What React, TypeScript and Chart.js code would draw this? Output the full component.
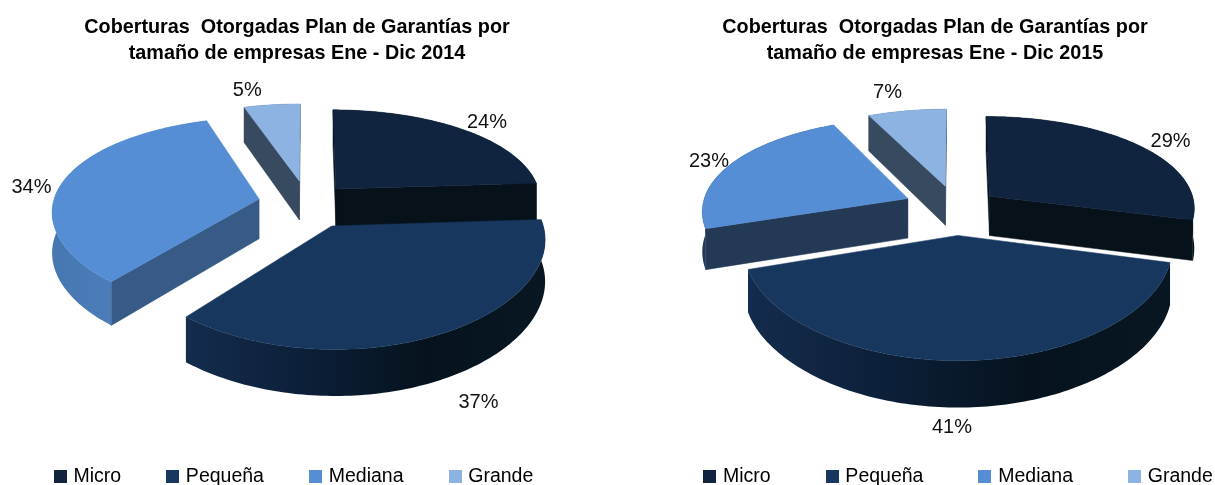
import React, { useEffect, useRef } from "react";
import { Chart, registerables } from "chart.js";
Chart.register(...registerables);

const categories = ["Micro", "Pequeña", "Mediana", "Grande"];
const values2014 = [24, 37, 34, 5];
const values2015 = [29, 41, 23, 7];
const title2014 = ["Coberturas  Otorgadas Plan de Garantías por", "tamaño de empresas Ene - Dic 2014"];
const title2015 = ["Coberturas  Otorgadas Plan de Garantías por", "tamaño de empresas Ene - Dic 2015"];
const legendColors = ["#10243F", "#17375E", "#558ED5", "#8DB3E2"];

type Cfg = {
  values: number[]; title: string[]; explode: number[]; order: number[];
  dx: number; dy: number; legendDx: number; legendPad: number; outline: number;
  faceColors: string[]; wallColors: string[][];
  labelAngle: number[]; labelRadius: number[];
};

const cfg2014: Cfg = {
  values: values2014, title: title2014, explode: [43, 53, 49, 50], order: [3, 0, 2, 1],
  dx: 10, dy: -34, legendDx: -2, legendPad: 48, outline: 0,
  faceColors: ["#07111A", "#0F2746", "#375A87", "#384A60"],
  wallColors: [["#07111A", "#07111A"], ["#142C4D", "#0C1F38", "#06131E", "#081722"], ["#4677B0", "#5587CB"], ["#384A60", "#384A60"]],
  labelAngle: [45.3, 157, 276, 346], labelRadius: [1.165, 1.45, 1.135, 1.24],
};
const cfg2015: Cfg = {
  values: values2015, title: title2015, explode: [43, 56, 53, 50], order: [1, 3, 0, 2],
  dx: 21, dy: -24, legendDx: 24.5, legendPad: 58, outline: 2,
  faceColors: ["#07111A", "#0F2746", "#233955", "#384A60"],
  wallColors: [["#07111A", "#07111A"], ["#142C4D", "#0C1F38", "#06131E", "#081722"], ["#233955", "#233955"], ["#384A60", "#384A60"]],
  labelAngle: [56, 181, 292.4, 345], labelRadius: [1.17, 1.41, 1.12, 1.3],
};

const PERSP_X = 1800, PERSP_Y = 1300, TILT = 0.465, DEPTH = 40, RADIUS = 206;

function swatch(color: string) {
  const c = document.createElement("canvas");
  c.width = 13; c.height = 13;
  const x = c.getContext("2d")!;
  x.fillStyle = color; x.fillRect(0, 0, 13, 13);
  return c;
}

function pie3dPlugin(cfg: Cfg) {
  return {
    id: "pie3d",
    afterLayout(chart: any) {
      chart.legend.left += cfg.legendDx;
      chart.legend.right += cfg.legendDx;
      chart.legend.top += 11;
      chart.legend.bottom += 11;
    },
    beforeDatasetsDraw(chart: any) {
      const ctx: CanvasRenderingContext2D = chart.ctx;
      const arcs = chart.getDatasetMeta(0).data;
      const base = arcs[0];
      const cx = base.x + cfg.dx, cy = base.y + cfg.dy;
      const proj = (X: number, Y: number, Z: number): [number, number] => {
        const fx = PERSP_X / (PERSP_X + Y), fy = PERSP_Y / (PERSP_Y + Y);
        return [cx + X * fx, cy - Y * TILT * fy - Z * fx];
      };
      const poly = (pts: [number, number][]) => {
        ctx.beginPath();
        pts.forEach((p, i) => (i ? ctx.lineTo(p[0], p[1]) : ctx.moveTo(p[0], p[1])));
        ctx.closePath();
      };
      for (const i of cfg.order) {
        const el = arcs[i];
        const a0 = el.startAngle + Math.PI / 2, a1 = el.endAngle + Math.PI / 2;
        const R = el.outerRadius, mid = (a0 + a1) / 2, o = el.options.offset;
        const ox = o * Math.sin(mid), oy = o * Math.cos(mid);
        const rim = (t: number): [number, number] => [ox + R * Math.sin(t), oy + R * Math.cos(t)];
        const steps = Math.max(2, Math.ceil((a1 - a0) / 0.02));
        const angs = Array.from({ length: steps + 1 }, (_, k) => a0 + ((a1 - a0) * k) / steps);
        const top = angs.map((t) => { const p = rim(t); return proj(p[0], p[1], 0); });
        const bot = angs.map((t) => { const p = rim(t); return proj(p[0], p[1], -DEPTH); });
        const apexT = proj(ox, oy, 0), apexB = proj(ox, oy, -DEPTH);
        const faces: [number, number][][] = [];
        const visible = (nx: number, ny: number) => nx * -ox + ny * (-PERSP_X - oy) > 0;
        if (visible(-Math.cos(a0), Math.sin(a0))) faces.push([apexT, top[0], bot[0], apexB]);
        if (visible(Math.cos(a1), -Math.sin(a1))) faces.push([apexT, top[steps], bot[steps], apexB]);
        const wall = [...top, ...bot.slice().reverse()];
        const topFace: [number, number][] = [apexT, ...top];
        if (cfg.outline) {
          ctx.strokeStyle = "#fff"; ctx.lineWidth = cfg.outline * 2; ctx.lineJoin = "round";
          [...faces, wall, topFace].forEach((f) => { poly(f); ctx.stroke(); });
        }
        const xs = wall.map((p) => p[0]);
        const g = ctx.createLinearGradient(Math.min(...xs), 0, Math.max(...xs), 0);
        const stops = cfg.wallColors[i];
        stops.forEach((c, k) => g.addColorStop(k / (stops.length - 1), c));
        poly(wall); ctx.fillStyle = g; ctx.fill();
        faces.forEach((f) => { poly(f); ctx.fillStyle = cfg.faceColors[i]; ctx.fill(); ctx.strokeStyle = cfg.faceColors[i]; ctx.lineWidth = 0.5; ctx.stroke(); });
        poly(topFace); ctx.fillStyle = el.options.backgroundColor; ctx.fill();
        ctx.strokeStyle = el.options.backgroundColor; ctx.lineWidth = 0.5; ctx.stroke();
      }
      ctx.font = '20px "Liberation Sans", Arial, sans-serif';
      ctx.fillStyle = "#111";
      ctx.textAlign = "center"; ctx.textBaseline = "middle";
      arcs.forEach((el: any, i: number) => {
        const a0 = el.startAngle + Math.PI / 2, a1 = el.endAngle + Math.PI / 2;
        const mid = (a0 + a1) / 2, o = el.options.offset;
        const t = (cfg.labelAngle[i] * Math.PI) / 180, r = el.outerRadius * cfg.labelRadius[i];
        const p = proj(o * Math.sin(mid) + r * Math.sin(t), o * Math.cos(mid) + r * Math.cos(t), 0);
        ctx.fillText(`${cfg.values[i]}%`, p[0], p[1]);
      });
      return false;
    },
  };
}

function Pie({ cfg, left, width }: { cfg: Cfg; left: number; width: number }) {
  const ref = useRef<HTMLCanvasElement>(null);
  useEffect(() => {
    const chart = new Chart(ref.current!, {
      type: "pie",
      data: {
        labels: categories,
        datasets: [{ data: cfg.values, backgroundColor: legendColors, borderWidth: 0, offset: cfg.explode }],
      },
      options: {
        animation: false,
        responsive: false,
        radius: RADIUS,
        plugins: {
          tooltip: { enabled: false },
          title: {
            display: true, text: cfg.title, color: "#000",
            font: { family: '"Liberation Sans", Arial, sans-serif', size: 19.8, weight: "bold", lineHeight: 1.31 },
            padding: { top: 15, bottom: 0 },
          },
          legend: {
            position: "bottom",
            labels: {
              usePointStyle: true, pointStyleWidth: 7, padding: cfg.legendPad, color: "#111",
              font: { family: '"Liberation Sans", Arial, sans-serif', size: 19.5 },
              generateLabels: () =>
                categories.map((text, i) => ({
                  text, index: i, fillStyle: legendColors[i], strokeStyle: legendColors[i],
                  lineWidth: 0, pointStyle: swatch(legendColors[i]), hidden: false,
                })),
            },
          },
        },
      } as any,
      plugins: [pie3dPlugin(cfg) as any],
    });
    return () => chart.destroy();
  }, []);
  return <canvas ref={ref} width={width} height={485} style={{ position: "absolute", left, top: 0, width, height: 485 }} />;
}

export default function App() {
  return (
    <div style={{ position: "absolute", left: 0, top: 0, width: 1215, height: 485, overflow: "hidden", background: "#fff" }}>
      <Pie cfg={cfg2014} left={0} width={594} />
      <Pie cfg={cfg2015} left={615} width={640} />
    </div>
  );
}
